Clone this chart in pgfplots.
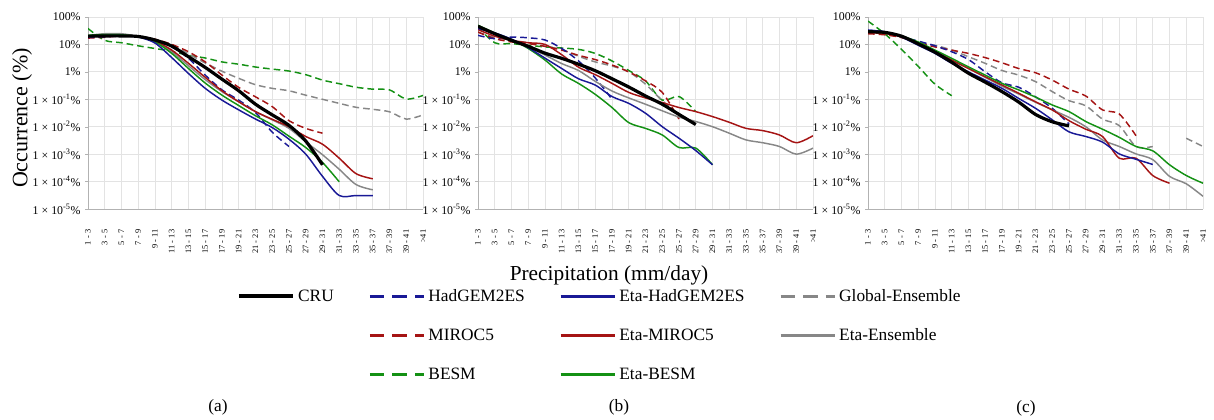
\documentclass[border=0pt]{standalone}
\usepackage{fontspec}
\setmainfont{Liberation Serif}
\usepackage{pgfplots}
\pgfplotsset{compat=1.18}

\definecolor{cblue}{RGB}{25,25,150}
\definecolor{cred}{RGB}{165,20,20}
\definecolor{cgreen}{RGB}{20,145,20}
\definecolor{cgray}{RGB}{135,135,135}

\pgfplotsset{
  /pgfplots/occbox/.style={
    scale only axis, width=251.25pt, height=144pt,
    ymin=1e-5, ymax=100,
    xmin=0, xmax=20,
    xtick={0,...,20},
    xticklabels={1 - 3, 3 - 5, 5 - 7, 7 - 9, 9 - 11, 11 - 13, 13 - 15, 15 - 17,
      17 - 19, 19 - 21, 21 - 23, 23 - 25, 25 - 27, 27 - 29, 29 - 31, 31 - 33,
      33 - 35, 35 - 37, 37 - 39, 39 - 41, >41},
    ytick={1e-5,1e-4,1e-3,1e-2,1e-1,1,10,100},
    yticklabels={1 × 10\textsuperscript{-5}\%, 1 × 10\textsuperscript{-4}\%,
      1 × 10\textsuperscript{-3}\%, 1 × 10\textsuperscript{-2}\%,
      1 × 10\textsuperscript{-1}\%, 1\%, 10\%, 100\%},
    yminorticks=false,
    grid=major, grid style={gray!22, line width=0.6pt},
    axis lines=left, axis line style={-, gray!60, line width=0.6pt},
    ytick style={gray!60}, major tick length=2pt, tick align=outside,
    xtick style={draw=none},
    yticklabel style={font=\fontsize{8.9}{9}\selectfont},
    xticklabel style={font=\fontsize{6.3}{7}\selectfont, yshift=-10pt, rotate=90, anchor=east},
  },
  /pgfplots/cru/.style={black, line width=2.4pt, smooth, tension=0.5},
  /pgfplots/eta/.style={#1, line width=1.1pt, smooth, tension=0.5},
  /pgfplots/glob/.style={#1, line width=1.1pt, dash pattern=on 5pt off 3pt, smooth, tension=0.5},
}

\begin{document}
\begin{tikzpicture}
\useasboundingbox (0,0) rectangle (910.5pt,315pt);

% ---------------- (a)
\begin{axis}[ymode=log, occbox, at={(66pt,158.25pt)}, anchor=south west]
\addplot[glob=cgreen] coordinates {(0,38) (1,14.1) (2,11.5) (3,8.9) (4,7.1) (5,5.6) (6,4.0) (7,3.2) (8,2.3) (9,1.9) (10,1.5) (11,1.26) (12,1.07) (13,0.79) (14,0.5) (15,0.37) (16,0.275) (17,0.234) (18,0.219) (19,0.102) (20,0.138)};
\addplot[glob=cgray] coordinates {(0,19) (1,20) (2,20) (3,19) (4,14.1) (5,10) (6,4.5) (7,2.1) (8,1.05) (9,0.58) (10,0.34) (11,0.25) (12,0.204) (13,0.141) (14,0.1) (15,0.071) (16,0.051) (17,0.043) (18,0.035) (19,0.019) (20,0.027)};
\addplot[glob=cred] coordinates {(0,17) (1,18.2) (2,20.4) (3,19.5) (4,15.5) (5,10) (6,5.4) (7,2.3) (8,0.76) (9,0.27) (10,0.123) (11,0.054) (12,0.0166) (13,0.0087) (14,0.0058)};
\addplot[glob=cblue] coordinates {(0,17.8) (1,19) (2,20) (3,19) (4,14.1) (5,8.1) (6,3.1) (7,0.76) (8,0.22) (9,0.093) (10,0.033) (11,0.0063) (12,0.0019)};
\addplot[eta=cgray] coordinates {(0,21.4) (1,24.5) (2,24.5) (3,19.5) (4,13.5) (5,5.4) (6,1.66) (7,0.52) (8,0.19) (9,0.081) (10,0.0355) (11,0.0178) (12,0.0087) (13,0.0028) (14,0.00095) (15,0.00028) (16,0.000078) (17,0.00005)};
\addplot[eta=cred] coordinates {(0,19) (1,20) (2,20.4) (3,19.5) (4,13.5) (5,6.2) (6,2.04) (7,0.63) (8,0.204) (9,0.081) (10,0.0355) (11,0.0186) (12,0.01) (13,0.0044) (14,0.0023) (15,0.00071) (16,0.000195) (17,0.000126)};
\addplot[eta=cgreen] coordinates {(0,21.4) (1,22.9) (2,22.4) (3,19) (4,12.3) (5,4.7) (6,1.32) (7,0.39) (8,0.141) (9,0.059) (10,0.0251) (11,0.0117) (12,0.0045) (13,0.00174) (14,0.0005) (15,0.000098)};
\addplot[eta=cblue] coordinates {(0,19) (1,20.9) (2,20.9) (3,18.6) (4,11.2) (5,3.3) (6,0.87) (7,0.25) (8,0.093) (9,0.041) (10,0.019) (11,0.0093) (12,0.0035) (13,0.001) (14,0.000155) (15,0.000031) (16,0.000031) (17,0.000031)};
\addplot[cru] coordinates {(0,20) (1,20.4) (2,20.4) (3,19.5) (4,14.5) (5,8.7) (6,3.55) (7,1.45) (8,0.54) (9,0.204) (10,0.066) (11,0.027) (12,0.0112) (13,0.003) (14,0.00041)};
\end{axis}

% ---------------- (b)
\begin{axis}[ymode=log, occbox, at={(358.5pt,158.25pt)}, anchor=south west]
\addplot[glob=cgreen] coordinates {(0,43.7) (1,11.5) (2,10.7) (3,9.3) (4,8.1) (5,7.4) (6,6.6) (7,4.7) (8,2.5) (9,1.12) (10,0.47) (11,0.093) (12,0.126) (13,0.0355)};
\addplot[glob=cgray] coordinates {(0,28.2) (1,17.8) (2,14.1) (3,11.5) (4,8.5) (5,6.5) (6,3.7) (7,2.3) (8,1.62) (9,1.0) (10,0.355) (11,0.089) (12,0.027)};
\addplot[glob=cred] coordinates {(0,28.2) (1,16.2) (2,12.3) (3,10.7) (4,8.5) (5,6.2) (6,4.0) (7,2.8) (8,1.78) (9,1.0) (10,0.47) (11,0.178) (12,0.019)};
\addplot[glob=cblue] coordinates {(0,21.4) (1,16.2) (2,18.6) (3,17.4) (4,14.5) (5,7.1) (6,2.5) (7,0.6) (8,0.1)};
\addplot[eta=cgray] coordinates {(0,38) (1,24.5) (2,14.8) (3,8.1) (4,4.1) (5,2.0) (6,1.12) (7,0.45) (8,0.2) (9,0.112) (10,0.066) (11,0.038) (12,0.0224) (13,0.0155) (14,0.01) (15,0.0058) (16,0.0033) (17,0.0026) (18,0.0019) (19,0.001) (20,0.00166)};
\addplot[eta=cred] coordinates {(0,34.7) (1,20) (2,14.1) (3,11.5) (4,10) (5,4.2) (6,1.48) (7,0.79) (8,0.38) (9,0.178) (10,0.112) (11,0.076) (12,0.05) (13,0.0355) (14,0.0234) (15,0.0145) (16,0.0087) (17,0.0072) (18,0.005) (19,0.0026) (20,0.0047)};
\addplot[eta=cgreen] coordinates {(0,50) (1,26.3) (2,15.1) (3,7.1) (4,2.7) (5,0.83) (6,0.38) (7,0.151) (8,0.05) (9,0.0141) (10,0.0087) (11,0.005) (12,0.00174) (13,0.00166) (14,0.00041)};
\addplot[eta=cblue] coordinates {(0,38) (1,26.3) (2,15.5) (3,7.6) (4,3.16) (5,1.32) (6,0.56) (7,0.33) (8,0.126) (9,0.071) (10,0.031) (11,0.01) (12,0.0038) (13,0.00135) (14,0.00041)};
\addplot[cru] coordinates {(0,45.7) (1,24.5) (2,14.1) (3,8.5) (4,4.8) (5,3.1) (6,1.9) (7,1.1) (8,0.56) (9,0.28) (10,0.132) (11,0.066) (12,0.028) (13,0.012)};
\end{axis}

% ---------------- (c)
\begin{axis}[ymode=log, occbox, at={(651pt,158.25pt)}, anchor=south west]
\addplot[glob=cgreen] coordinates {(0,70.8) (1,24.5) (2,6.6) (3,1.58) (4,0.355) (5,0.135)};
\addplot[glob=cgray] coordinates {(0,26.3) (1,24) (2,17.8) (3,11.5) (4,9.3) (5,6.2) (6,3.55) (7,2.04) (8,1.12) (9,0.76) (10,0.44) (11,0.19) (12,0.089) (13,0.058) (14,0.019) (15,0.011) (16,0.0019) (17,0.0019)};
\addplot[glob=cgray] coordinates {(19,0.0038) (20,0.0019)};
\addplot[glob=cred] coordinates {(0,24.5) (1,22.4) (2,17.8) (3,11.5) (4,8.1) (5,6.2) (6,4.7) (7,3.3) (8,2.14) (9,1.32) (10,0.93) (11,0.5) (12,0.234) (13,0.132) (14,0.041) (15,0.029) (16,0.0047)};
\addplot[glob=cblue] coordinates {(0,33) (1,28.8) (2,19) (3,13.2) (4,8.9) (5,5.4) (6,2.8) (7,1.0) (8,0.4) (9,0.275) (10,0.123) (11,0.047) (12,0.0126)};
\addplot[eta=cgray] coordinates {(0,28.8) (1,26.3) (2,19.5) (3,11.5) (4,5.8) (5,2.7) (6,1.32) (7,0.63) (8,0.3) (9,0.155) (10,0.078) (11,0.041) (12,0.0219) (13,0.01) (14,0.0033) (15,0.0019) (16,0.00102) (17,0.00063) (18,0.000155) (19,0.000083) (20,0.000029)};
\addplot[eta=cred] coordinates {(0,26.3) (1,25.1) (2,18.6) (3,10.7) (4,5.4) (5,2.7) (6,1.32) (7,0.66) (8,0.33) (9,0.166) (10,0.081) (11,0.041) (12,0.0166) (13,0.0081) (14,0.0044) (15,0.00071) (16,0.00071) (17,0.000166) (18,0.000087)};
\addplot[eta=cgreen] coordinates {(0,28.8) (1,26.3) (2,20) (3,12.3) (4,6.2) (5,3.1) (6,1.51) (7,0.76) (8,0.38) (9,0.219) (10,0.12) (11,0.062) (12,0.0355) (13,0.0155) (14,0.0081) (15,0.0041) (16,0.0019) (17,0.00132) (18,0.00041) (19,0.000166) (20,0.000087)};
\addplot[eta=cblue] coordinates {(0,33) (1,28.8) (2,18.6) (3,9.3) (4,4.7) (5,2.04) (6,1.0) (7,0.5) (8,0.25) (9,0.107) (10,0.047) (11,0.0178) (12,0.0065) (13,0.0044) (14,0.00275) (15,0.00102) (16,0.00065) (17,0.00042)};
\addplot[cru] coordinates {(0,28.8) (1,27.5) (2,20) (3,10.5) (4,5.2) (5,2.24) (6,0.89) (7,0.42) (8,0.19) (9,0.079) (10,0.028) (11,0.0151) (12,0.0107)};
\end{axis}

% ---------------- legend
\begin{axis}[at={(450pt,63.4pt)}, anchor=center, hide axis, scale only axis,
  width=10pt, height=10pt, xmin=0, xmax=1, ymin=0, ymax=1,
  legend columns=4, legend cell align=left,
  legend style={at={(0.5,0.5)}, anchor=center, draw=none, fill=none,
    font=\fontsize{13}{14}\selectfont, row sep=15pt,
    /tikz/every even column/.append style={column sep=24pt}},
  legend image code/.code={\draw[#1] (0pt,0pt) -- (41pt,0pt);},
]
\addlegendimage{black, line width=3pt}\addlegendentry{CRU}
\addlegendimage{cblue, line width=2pt, dash pattern=on 11pt off 6pt}\addlegendentry{HadGEM2ES}
\addlegendimage{cblue, line width=2pt}\addlegendentry{Eta-HadGEM2ES}
\addlegendimage{cgray, line width=2pt, dash pattern=on 11pt off 6pt}\addlegendentry{Global-Ensemble}
\addlegendimage{empty legend}\addlegendentry{}
\addlegendimage{cred, line width=2pt, dash pattern=on 11pt off 6pt}\addlegendentry{MIROC5}
\addlegendimage{cred, line width=2pt}\addlegendentry{Eta-MIROC5}
\addlegendimage{cgray, line width=2pt}\addlegendentry{Eta-Ensemble}
\addlegendimage{empty legend}\addlegendentry{}
\addlegendimage{cgreen, line width=2pt, dash pattern=on 11pt off 6pt}\addlegendentry{BESM}
\addlegendimage{cgreen, line width=2pt}\addlegendentry{Eta-BESM}
\addlegendimage{empty legend}\addlegendentry{}
\end{axis}

\node[rotate=90, font=\fontsize{16.5}{18}\selectfont] at (16.5pt,226.5pt) {Occurrence (\%)};
\node[font=\fontsize{16}{18}\selectfont] at (456.75pt,108.75pt) {Precipitation (mm/day)};
\node[font=\fontsize{13}{15}\selectfont] at (163.5pt,9.75pt) {(a)};
\node[font=\fontsize{13}{15}\selectfont] at (464.25pt,9.75pt) {(b)};
\node[font=\fontsize{13}{15}\selectfont] at (769.5pt,9pt) {(c)};
\end{tikzpicture}
\end{document}
